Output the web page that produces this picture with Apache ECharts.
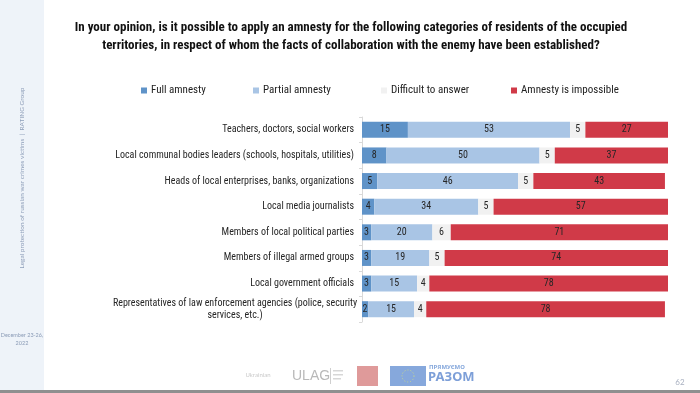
<!DOCTYPE html>
<html>
<head>
<meta charset="utf-8">
<script src="https://cdn.jsdelivr.net/npm/echarts@6/dist/echarts.min.js"></script>
<style>
html,body{margin:0;padding:0;background:#fff;}
#chart{width:700px;height:393px;}
</style>
</head>
<body>
<div id="chart"></div>
<script>
var categories = [
  'Teachers, doctors, social workers',
  'Local communal bodies leaders (schools, hospitals, utilities)',
  'Heads of local enterprises, banks, organizations',
  'Local media journalists',
  'Members of local political parties',
  'Members of illegal armed groups',
  'Local government officials',
  'Representatives of law enforcement agencies (police, security\nservices, etc.)'
];
var seriesNames = ['Full amnesty', 'Partial amnesty', 'Difficult to answer', 'Amnesty is impossible'];
var fullAmnesty    = [15, 8, 5, 4, 3, 3, 3, 2];
var partialAmnesty = [53, 50, 46, 34, 20, 19, 15, 15];
var difficult      = [5, 5, 5, 5, 6, 5, 4, 4];
var impossible     = [27, 37, 43, 57, 71, 74, 78, 78];

var FONT = '"Liberation Sans Narrow", "Arial Narrow", "Roboto Condensed", Roboto, "Liberation Sans", Arial, sans-serif';
var colors = ['#5f93c8', '#a9c5e5', '#f1f1f1', '#d03a48'];
var values = [fullAmnesty, partialAmnesty, difficult, impossible];
var legendX = [141, 253, 381, 511];

var chart = echarts.init(document.getElementById('chart'), null, {renderer: 'canvas'});

var series = seriesNames.map(function (name, i) {
  return {
    name: name,
    type: 'bar',
    stack: 'total',
    barWidth: 16,
    data: values[i],
    itemStyle: {color: colors[i]},
    label: {
      show: true,
      position: 'inside',
      color: '#262626',
      fontFamily: FONT,
      fontSize: 10
    }
  };
});

var legends = seriesNames.map(function (name, i) {
  return {
    data: [name],
    left: legendX[i],
    top: 85,
    icon: 'rect',
    itemWidth: 6,
    itemHeight: 6,
    itemGap: 4,
    padding: 0,
    textStyle: {fontFamily: FONT, fontSize: 11, color: '#222', padding: [0, 0, 0, -1]}
  };
});

var option = {
  animation: false,
  backgroundColor: '#ffffff',
  legend: legends,
  grid: {left: 362, right: 32, top: 117, bottom: 71, containLabel: false},
  xAxis: {
    type: 'value',
    min: 0,
    max: 100,
    show: false
  },
  yAxis: {
    type: 'category',
    data: categories,
    inverse: true,
    axisLine: {show: true, lineStyle: {color: '#d9d9d9', width: 1}},
    axisTick: {show: true, length: 3, lineStyle: {color: '#d9d9d9'}},
    axisLabel: {
      margin: 8,
      color: '#262626',
      fontFamily: FONT,
      fontSize: 10,
      lineHeight: 12,
      formatter: function (v) {
        if (v.indexOf('\n') >= 0) {
          var parts = v.split('\n');
          return '{c|' + parts[0] + '}\n{c|' + parts[1] + '}';
        }
        return v;
      },
      rich: {
        c: {width: 238, align: 'center', fontFamily: FONT, fontSize: 10, color: '#262626', lineHeight: 12}
      }
    }
  },
  series: series,
  graphic: [
    {type: 'rect', z: -10, shape: {x: 0, y: 0, width: 44, height: 393}, style: {fill: '#eef3f9'}},
    {type: 'text', x: 22, y: 178, rotation: Math.PI / 2,
      style: {text: 'Legal protection of russian war crimes victims  |  RATING Group', font: '6.5px Lato, "Open Sans", sans-serif', fill: '#8e9eb9', textAlign: 'center', textVerticalAlign: 'middle'}},
    {type: 'text', x: 22, y: 331,
      style: {text: 'December 23-26,\n2022', font: '5.5px Lato, "Open Sans", sans-serif', lineHeight: 8, fill: '#8a9bb6', textAlign: 'center'}},
    {type: 'text', x: 351, y: 19,
      style: {text: 'In your opinion, is it possible to apply an amnesty for the following categories of residents of the occupied\nterritories, in respect of whom the facts of collaboration with the enemy have been established?',
        font: 'bold 13px ' + FONT, lineHeight: 18, fill: '#111', textAlign: 'center'}},
    // logos (approximate, faded)
    {type: 'text', x: 258, y: 372, style: {text: 'Ukrainian', font: '6px Lato, sans-serif', fill: '#c9c9c9', textAlign: 'center'}},
    {type: 'text', x: 292, y: 369, style: {text: 'ULAG', font: '14px "Liberation Sans", sans-serif', fill: '#b9b9b9'}},
    {type: 'rect', shape: {x: 330, y: 368, width: 1, height: 16}, style: {fill: '#cfcfcf'}},
    {type: 'rect', shape: {x: 333, y: 370, width: 10, height: 1.5}, style: {fill: '#d7d7d7'}},
    {type: 'rect', shape: {x: 333, y: 374, width: 10, height: 1.5}, style: {fill: '#d7d7d7'}},
    {type: 'rect', shape: {x: 333, y: 378, width: 8, height: 1.5}, style: {fill: '#d7d7d7'}},
    {type: 'rect', shape: {x: 357, y: 366, width: 21, height: 20}, style: {fill: '#df9a9a'}},
    {type: 'rect', shape: {x: 390, y: 366, width: 36, height: 20}, style: {fill: '#86a8dc'}},
    {type: 'circle', shape: {cx: 408, cy: 376, r: 6}, style: {fill: 'none', stroke: '#c9d98f', lineWidth: 1, lineDash: [1, 2]}},
    {type: 'text', x: 429, y: 364, style: {text: 'ПРЯМУЄМО', font: 'bold 6px "Noto Sans", sans-serif', fill: '#86a8dc'}},
    {type: 'text', x: 428, y: 371, style: {text: 'РАЗОМ', font: 'bold 13px "Noto Sans", sans-serif', fill: '#7d9fd8'}},
    {type: 'text', x: 680, y: 378, style: {text: '62', font: '8px Lato, sans-serif', fill: '#a8b0c0', textAlign: 'center'}},
    {type: 'rect', shape: {x: 0, y: 390, width: 700, height: 3}, style: {fill: '#8f8f8f'}}
  ]
};
chart.setOption(option);
</script>
</body>
</html>
